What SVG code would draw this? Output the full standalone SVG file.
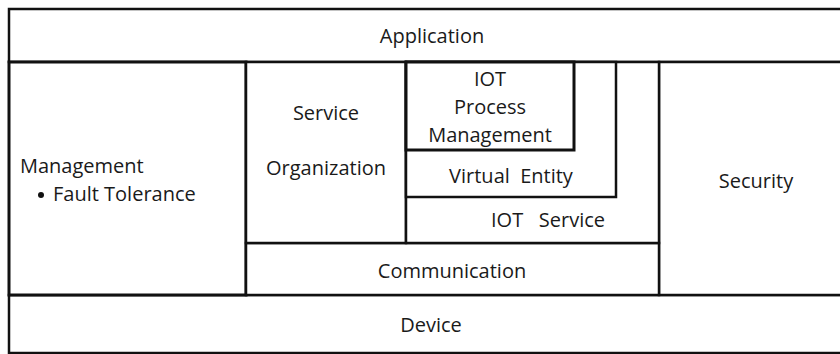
<svg xmlns="http://www.w3.org/2000/svg" width="840" height="354" viewBox="0 0 840 354">
<style>
.b{fill:#fff;stroke:#111;stroke-width:2.5}
.t{font-family:"Open Sans","Liberation Sans",sans-serif;font-size:20px;fill:#1a1a1a}
.c{text-anchor:middle}
</style>
<rect width="840" height="354" fill="#fff"/>
<g id="application"><rect class="b" x="9" y="9" width="846" height="53"/><text class="t c" x="432" y="43">Application</text></g>
<g id="device"><rect class="b" x="9" y="295" width="846" height="58"/><text class="t c" x="431" y="332">Device</text></g>
<g id="management"><rect class="b" x="9" y="62" width="237" height="233" style="stroke-width:3"/><text class="t" x="20" y="173">Management</text><circle cx="41" cy="195" r="3" fill="#111"/><text class="t" x="53" y="201">Fault Tolerance</text></g>
<g id="security"><rect class="b" x="659" y="62" width="196" height="233"/><text class="t c" x="756" y="188">Security</text></g>
<g id="communication"><rect class="b" x="246" y="243" width="413" height="52"/><text class="t c" x="452" y="278">Communication</text></g>
<g id="service-organization"><rect class="b" x="246" y="62" width="160" height="181"/><text class="t c" x="326" y="120">Service</text><text class="t c" x="326" y="175">Organization</text></g>
<g id="iot-service"><rect class="b" x="406" y="62" width="253" height="181"/><text class="t" x="605" y="227" text-anchor="end" xml:space="preserve">IOT   Service</text></g>
<g id="virtual-entity"><rect class="b" x="406" y="62" width="210" height="135"/><text class="t c" x="511" y="183" xml:space="preserve">Virtual  Entity</text></g>
<g id="iot-process-management"><rect class="b" x="406" y="62" width="168" height="88" style="stroke-width:3"/><text class="t c" x="490" y="86">IOT</text><text class="t c" x="490" y="114">Process</text><text class="t c" x="490" y="142">Management</text></g>
<g id="connectors"></g>
</svg>
